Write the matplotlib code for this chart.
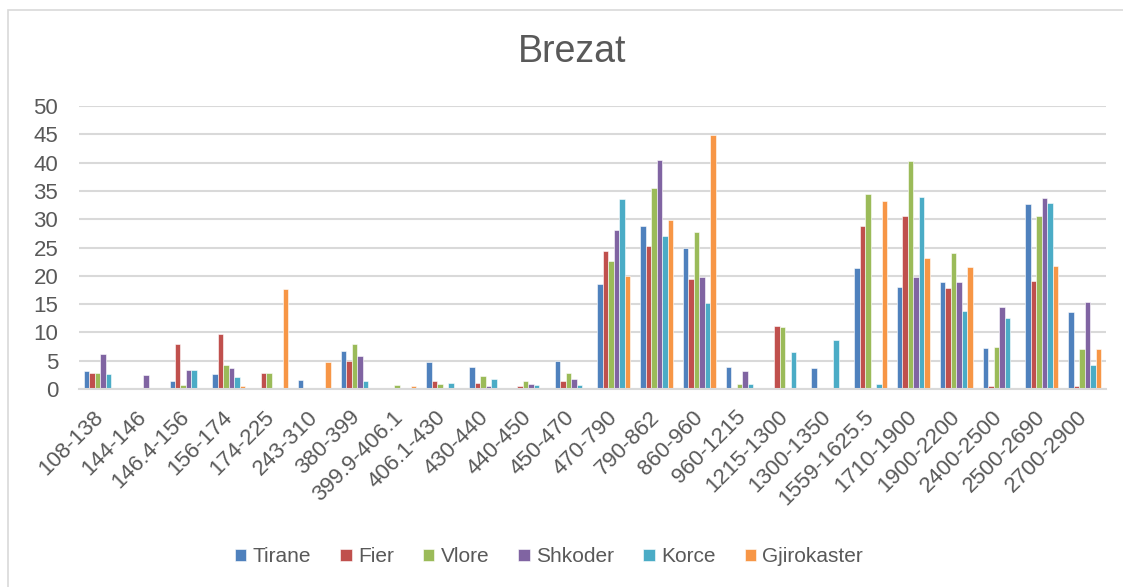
import matplotlib
matplotlib.use("Agg")
import matplotlib.pyplot as plt
import numpy as np
from matplotlib.patches import Rectangle

categories = ["108-138", "144-146", "146.4-156", "156-174", "174-225", "243-310",
              "380-399", "399.9-406.1", "406.1-430", "430-440", "440-450", "450-470",
              "470-790", "790-862", "860-960", "960-1215", "1215-1300", "1300-1350",
              "1559-1625.5", "1710-1900", "1900-2200", "2400-2500", "2500-2690", "2700-2900"]

tirane = [3.2, 0, 1.35, 2.7, 0, 1.6, 6.8, 0, 4.8, 3.9, 0, 5.0,
          18.6, 28.8, 25.0, 3.9, 0, 3.65, 21.3, 18.1, 18.85, 7.25, 32.6, 13.6]
fier = [2.9, 0, 7.95, 9.8, 2.9, 0, 5.0, 0, 1.35, 1.1, 0.45, 1.35,
        24.3, 25.2, 19.5, 0, 11.1, 0, 28.8, 30.6, 17.9, 0.45, 19.0, 0.6]
vlore = [2.9, 0, 0.7, 4.3, 2.9, 0, 7.95, 0.7, 0.95, 2.3, 1.35, 2.9,
         22.7, 35.6, 27.7, 0.9, 10.9, 0, 34.45, 40.2, 24.0, 7.5, 30.6, 7.1]
shkoder = [6.1, 2.5, 3.4, 3.65, 0, 0, 5.9, 0, 0, 0.45, 0.95, 1.8,
           28.1, 40.4, 19.7, 3.2, 0, 0, 0, 19.7, 18.85, 14.5, 33.8, 15.4]
korce = [2.7, 0, 3.4, 2.05, 0, 0, 1.35, 0, 1.1, 1.8, 0.7, 0.7,
         33.6, 27.0, 15.2, 0.9, 6.6, 8.65, 0.9, 34.0, 13.85, 12.5, 32.9, 4.2]
gjirokaster = [0, 0, 0, 0.5, 17.7, 4.8, 0, 0.45, 0, 0, 0, 0,
               20.0, 29.9, 44.9, 0, 0, 0, 33.2, 23.1, 21.55, 0, 21.8, 7.1]

series_names = ["Tirane", "Fier", "Vlore", "Shkoder", "Korce", "Gjirokaster"]
series_values = [tirane, fier, vlore, shkoder, korce, gjirokaster]
colors = ["#4F81BD", "#C0504D", "#9BBB59", "#8064A2", "#4BACC6", "#F79646"]
yticks = [0, 5, 10, 15, 20, 25, 30, 35, 40, 45, 50]

W, H = 1123, 587
fig = plt.figure(figsize=(W / 100, H / 100), dpi=100)
plt.rcParams['font.family'] = ['Liberation Sans', 'DejaVu Sans']

# chart-area border
fig.patches.append(Rectangle((8 / W, -0.1), 1.2, 1 - 10 / H + 0.1, transform=fig.transFigure,
                             fill=False, edgecolor="#D9D9D9", linewidth=1.2))

ax = fig.add_axes([79 / W, 1 - 389 / H, (1106 - 79) / W, (389 - 106) / H])

n = len(series_names)
x = np.arange(len(categories))
group = 0.77
bw = group / n
for i, (name, vals, c) in enumerate(zip(series_names, series_values, colors)):
    ax.bar(x - group / 2 + bw * (i + 0.5), vals, width=bw, color=c, label=name,
           edgecolor="white", linewidth=0.4)

ax.set_xlim(-0.5, len(categories) - 0.5)
ax.set_ylim(0, 50)
ax.set_yticks(yticks)
ax.yaxis.grid(True, color="#D9D9D9", linewidth=1.5)
ax.set_axisbelow(True)
for s in ["top", "right", "left"]:
    ax.spines[s].set_visible(False)
ax.spines["bottom"].set_color("#D9D9D9")
ax.spines["bottom"].set_linewidth(1.5)
ax.tick_params(axis="both", length=0, colors="#595959", labelsize=16)
ax.tick_params(axis="y", pad=15)
ax.set_xticks(x)
ax.set_xticklabels(categories, rotation=45, ha="right", va="center", rotation_mode="anchor")
ax.tick_params(axis="x", pad=18)

fig.text(572 / W, 1 - 52 / H, "Brezat", ha="center", va="center", fontsize=27, color="#595959")

leg = fig.legend(loc="center", bbox_to_anchor=(549 / W, 1 - 557 / H), ncol=6, frameon=False,
                 fontsize=15, handlelength=0.55, handleheight=0.55, handletextpad=0.3,
                 columnspacing=1.4, labelcolor="#595959")

fig.savefig("out.png", dpi=100, facecolor="white")
